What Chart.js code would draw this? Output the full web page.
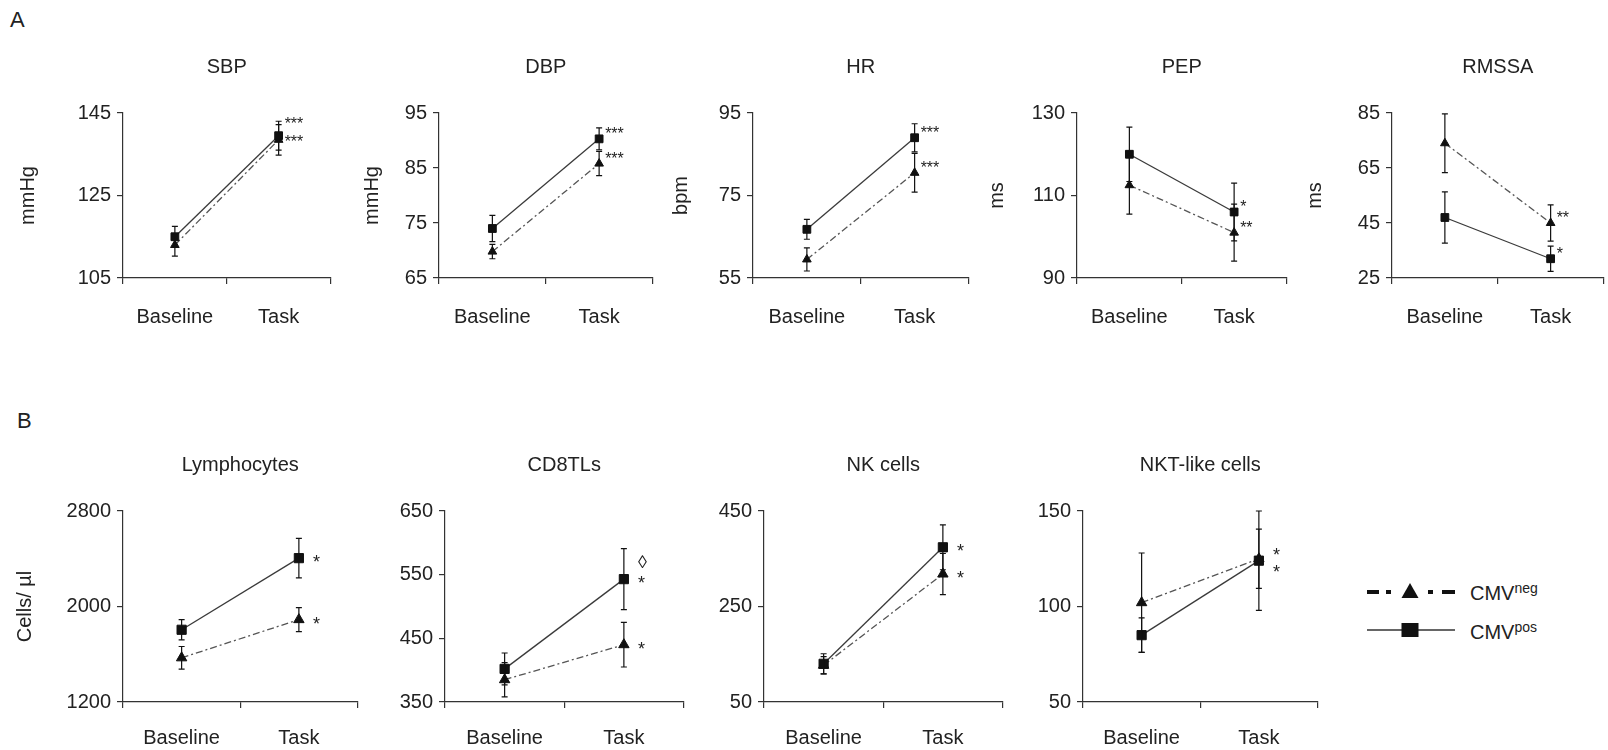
<!DOCTYPE html>
<html>
<head>
<meta charset="utf-8">
<script src="https://cdn.jsdelivr.net/npm/chart.js@4.4.1/dist/chart.umd.min.js"></script>
<style>
  html, body { margin: 0; padding: 0; background: #fff; }
  body { width: 1608px; height: 750px; overflow: hidden; position: relative;
         font-family: "Liberation Sans", Arial, sans-serif; color: #222; }
  canvas { position: absolute; }
  .letter { position: absolute; font-size: 22px; line-height: 1; }
  #legend { position: absolute; left: 1360px; top: 570px; }
</style>
</head>
<body>
<div class="letter" style="left:10px;top:9px">A</div>
<div class="letter" style="left:17px;top:410px">B</div>

<svg id="legend" width="240" height="80">
  <g stroke="#111" stroke-width="4">
    <line x1="7" y1="22" x2="19" y2="22"/>
    <line x1="26" y1="22" x2="31" y2="22"/>
    <line x1="68" y1="22" x2="73" y2="22"/>
    <line x1="82" y1="22" x2="95" y2="22"/>
  </g>
  <polygon points="50,13 58.5,28 41.5,28" fill="#111"/>
  <line x1="7" y1="60" x2="95" y2="60" stroke="#333" stroke-width="1.3"/>
  <rect x="41.5" y="53" width="17" height="14" fill="#111"/>
  <text x="110" y="30" font-size="20" fill="#222" font-family="Liberation Sans, Arial, sans-serif">CMV<tspan font-size="14" dy="-7">neg</tspan></text>
  <text x="110" y="69" font-size="20" fill="#222" font-family="Liberation Sans, Arial, sans-serif">CMV<tspan font-size="14" dy="-7">pos</tspan></text>
</svg>

<script>
const timepoints = ['Baseline', 'Task'];

// A: cardiovascular measures  (pos = CMVpos, neg = CMVneg; sd = error bar half length)
const sbpTicks = [105, 125, 145];
const sbpPos = [115, 139.5];
const sbpPosSd = [2.5, 3.5];
const sbpNeg = [113, 138.5];
const sbpNegSd = [2.7, 3.7];
const sbpMarks = ['***', '***'];

const dbpTicks = [65, 75, 85, 95];
const dbpPos = [74, 90.3];
const dbpPosSd = [2.4, 2];
const dbpNeg = [69.8, 85.8];
const dbpNegSd = [1.3, 2.2];
const dbpMarks = ['***', '***'];

const hrTicks = [55, 75, 95];
const hrPos = [66.8, 89];
const hrPosSd = [2.4, 3.4];
const hrNeg = [59.5, 80.5];
const hrNegSd = [2.8, 4.7];
const hrMarks = ['***', '***'];

const pepTicks = [90, 110, 130];
const pepPos = [120, 106];
const pepPosSd = [6.6, 7];
const pepNeg = [112.5, 101];
const pepNegSd = [7, 6.9];
const pepMarks = ['*', '**'];

const rmssaTicks = [25, 45, 65, 85];
const rmssaPos = [47, 32];
const rmssaPosSd = [9.3, 4.6];
const rmssaNeg = [74, 45];
const rmssaNegSd = [10.7, 6.6];
const rmssaMarks = ['*', '**'];

// B: cell counts
const lymTicks = [1200, 2000, 2800];
const lymPos = [1805, 2405];
const lymPosSd = [85, 165];
const lymNeg = [1570, 1890];
const lymNegSd = [95, 100];
const lymMarks = ['*', '*'];

const cd8Ticks = [350, 450, 550, 650];
const cd8Pos = [402, 543];
const cd8PosSd = [25, 48];
const cd8Neg = [385, 440];
const cd8NegSd = [27, 35];
const cd8Marks = ['◊\n*', '*'];

const nkTicks = [50, 250, 450];
const nkPos = [130, 374];
const nkPosSd = [21, 47];
const nkNeg = [127, 318];
const nkNegSd = [18, 43];
const nkMarks = ['*', '*'];

const nktTicks = [50, 100, 150];
const nktPos = [85, 124];
const nktPosSd = [9, 26];
const nktNeg = [102, 125];
const nktNegSd = [26, 15.5];
const nktMarks = ['*', '*'];

const panelsA = [
    { title: 'SBP', unit: 'mmHg', ticks: sbpTicks, pos: sbpPos, posSd: sbpPosSd, neg: sbpNeg, negSd: sbpNegSd, marks: sbpMarks },
    { title: 'DBP', unit: 'mmHg', ticks: dbpTicks, pos: dbpPos, posSd: dbpPosSd, neg: dbpNeg, negSd: dbpNegSd, marks: dbpMarks },
    { title: 'HR', unit: 'bpm', ticks: hrTicks, pos: hrPos, posSd: hrPosSd, neg: hrNeg, negSd: hrNegSd, marks: hrMarks },
    { title: 'PEP', unit: 'ms', ticks: pepTicks, pos: pepPos, posSd: pepPosSd, neg: pepNeg, negSd: pepNegSd, marks: pepMarks },
    { title: 'RMSSA', unit: 'ms', ticks: rmssaTicks, pos: rmssaPos, posSd: rmssaPosSd, neg: rmssaNeg, negSd: rmssaNegSd, marks: rmssaMarks }
];
const panelsB = [
    { title: 'Lymphocytes', unit: 'Cells/ µl', ticks: lymTicks, pos: lymPos, posSd: lymPosSd, neg: lymNeg, negSd: lymNegSd, marks: lymMarks },
    { title: 'CD8TLs', unit: '', ticks: cd8Ticks, pos: cd8Pos, posSd: cd8PosSd, neg: cd8Neg, negSd: cd8NegSd, marks: cd8Marks },
    { title: 'NK cells', unit: '', ticks: nkTicks, pos: nkPos, posSd: nkPosSd, neg: nkNeg, negSd: nkNegSd, marks: nkMarks },
    { title: 'NKT-like cells', unit: '', ticks: nktTicks, pos: nktPos, posSd: nktPosSd, neg: nktNeg, negSd: nktNegSd, marks: nktMarks }
];

// page layout of the two rows
const rowA = {
    axisX: [123, 439, 753, 1077, 1392], unitX: [28, 372, 681, 997, 1315], plotW: [212, 218, 220, 214, 216],
    canvasTop: 30, plotTop: 113, plotBottom: 278, below: 60, titleY: 67, xPad: 21, marker: 5,
    marks: { dx: 6, dy: 0, size: 16, minGap: 18, lineGap: 21 }
};
const rowB = {
    axisX: [123, 445, 764, 1083], unitX: [25, null, null, null], plotW: [240, 244, 244, 240],
    canvasTop: 430, plotTop: 511, plotBottom: 702, below: 48, titleY: 465, xPad: 18, marker: 6,
    marks: { dx: 14, dy: 10, size: 18, minGap: 17, lineGap: 21 }
};

const FONT = '"Liberation Sans", Arial, sans-serif';
const textColor = '#222';
const axisColor = '#333';
Chart.defaults.font.family = FONT;
Chart.defaults.color = textColor;

const panelTitle = {
    id: 'panelTitle',
    afterDraw(chart, args, opts) {
        const { ctx, chartArea } = chart;
        ctx.save();
        ctx.fillStyle = textColor;
        ctx.font = '20px ' + FONT;
        ctx.textAlign = 'center';
        ctx.textBaseline = 'middle';
        ctx.fillText(opts.text, (chartArea.left + chartArea.right) / 2, opts.y);
        ctx.restore();
    }
};

const errorBars = {
    id: 'errorBars',
    afterDatasetsDraw(chart) {
        const ctx = chart.ctx;
        const y = chart.scales.y;
        ctx.save();
        ctx.strokeStyle = '#111';
        ctx.lineWidth = 1.2;
        chart.data.datasets.forEach((ds, i) => {
            chart.getDatasetMeta(i).data.forEach((pt, j) => {
                const top = y.getPixelForValue(ds.data[j] + ds.sd[j]);
                const bot = y.getPixelForValue(ds.data[j] - ds.sd[j]);
                ctx.beginPath();
                ctx.moveTo(pt.x, top); ctx.lineTo(pt.x, bot);
                ctx.moveTo(pt.x - 3, top); ctx.lineTo(pt.x + 3, top);
                ctx.moveTo(pt.x - 3, bot); ctx.lineTo(pt.x + 3, bot);
                ctx.stroke();
            });
        });
        ctx.restore();
    }
};

const sigMarks = {
    id: 'sigMarks',
    afterDatasetsDraw(chart, args, opts) {
        const ctx = chart.ctx;
        const items = [];
        chart.data.datasets.forEach((ds, i) => {
            const pts = chart.getDatasetMeta(i).data;
            const pt = pts[pts.length - 1];
            items.push({ text: ds.mark, x: pt.x + opts.dx, y: pt.y + opts.dy });
        });
        // push marks apart when both groups sit at the same height
        items.sort((a, b) => a.y - b.y);
        for (let k = 1; k < items.length; k++) {
            const gap = items[k].y - items[k - 1].y;
            if (gap < opts.minGap) {
                const push = (opts.minGap - gap) / 2;
                items[k - 1].y -= push;
                items[k].y += push;
            }
        }
        ctx.save();
        ctx.fillStyle = textColor;
        ctx.font = opts.size + 'px ' + FONT;
        ctx.textAlign = 'left';
        ctx.textBaseline = 'alphabetic';
        items.forEach(it => {
            it.text.split('\n').reverse().forEach((line, n) => {
                ctx.fillText(line, it.x, it.y - n * opts.lineGap);
            });
        });
        ctx.restore();
    }
};

function buildPanel(p, row, i) {
    const axisX = row.axisX[i];
    const unitX = row.unitX[i];
    const left = unitX ? unitX - 12 : axisX - 72;
    const width = axisX + row.plotW[i] + 2 - left;
    const height = row.plotBottom - row.canvasTop + row.below;

    const canvas = document.createElement('canvas');
    canvas.width = width;
    canvas.height = height;
    canvas.style.left = left + 'px';
    canvas.style.top = row.canvasTop + 'px';
    canvas.style.width = width + 'px';
    canvas.style.height = height + 'px';
    document.body.appendChild(canvas);

    const gridOpts = { drawOnChartArea: false, drawTicks: true, tickLength: 6, color: axisColor, lineWidth: 1.2 };

    new Chart(canvas, {
        type: 'line',
        data: {
            labels: timepoints,
            datasets: [
                {
                    label: 'CMVpos', data: p.pos, sd: p.posSd, mark: p.marks[0],
                    borderColor: '#3a3a3a', borderWidth: 1.3, tension: 0,
                    pointStyle: 'rect', pointRadius: row.marker + 0.5,
                    pointBackgroundColor: '#111', pointBorderColor: '#111', pointBorderWidth: 1
                },
                {
                    label: 'CMVneg', data: p.neg, sd: p.negSd, mark: p.marks[1],
                    borderColor: '#555', borderWidth: 1.3, borderDash: [7, 3, 2, 3], tension: 0,
                    pointStyle: 'triangle', pointRadius: row.marker,
                    pointBackgroundColor: '#111', pointBorderColor: '#111', pointBorderWidth: 1
                }
            ]
        },
        options: {
            responsive: false,
            animation: false,
            devicePixelRatio: 1,
            layout: { padding: { top: row.plotTop - row.canvasTop, right: 2, left: 0, bottom: 0 } },
            scales: {
                x: {
                    offset: true,
                    grid: Object.assign({ offset: true }, gridOpts),
                    border: { display: true, color: axisColor, width: 1.2 },
                    ticks: { padding: row.xPad, color: textColor, font: { size: 20 } },
                    afterFit: s => { s.height = height - (row.plotBottom - row.canvasTop); }
                },
                y: {
                    min: p.ticks[0],
                    max: p.ticks[p.ticks.length - 1],
                    afterBuildTicks: s => { s.ticks = p.ticks.map(v => ({ value: v })); },
                    grid: gridOpts,
                    border: { display: true, color: axisColor, width: 1.2 },
                    ticks: { padding: 6, color: textColor, font: { size: 20 }, callback: v => String(v) },
                    title: { display: !!p.unit, text: p.unit, padding: 0, color: textColor, font: { size: 20, lineHeight: 1.2 } },
                    afterFit: s => { s.width = axisX - left; }
                }
            },
            plugins: {
                legend: { display: false },
                tooltip: { enabled: false },
                panelTitle: { text: p.title, y: row.titleY - row.canvasTop },
                sigMarks: row.marks
            }
        },
        plugins: [panelTitle, errorBars, sigMarks]
    });
}

panelsA.forEach((p, i) => buildPanel(p, rowA, i));
panelsB.forEach((p, i) => buildPanel(p, rowB, i));
</script>
</body>
</html>
